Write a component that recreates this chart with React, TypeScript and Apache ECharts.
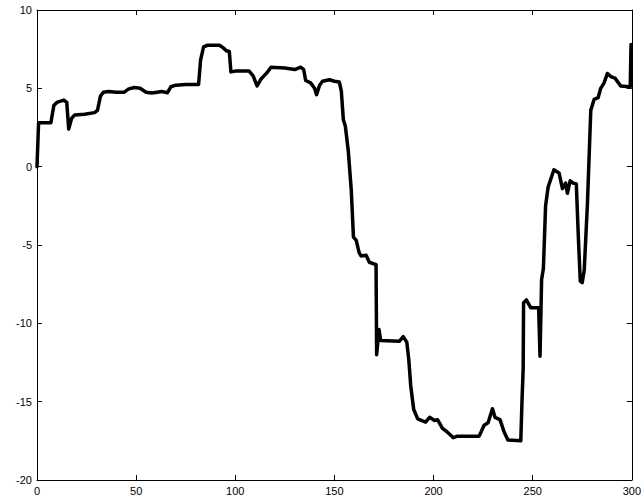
import React, { useEffect, useRef } from "react";
import * as echarts from "echarts";

const xs: number[] = [
  0, 0.8, 7, 8.5, 10, 13.5, 15, 16, 17.5, 19, 24, 29, 30.5, 32, 33.5, 36, 40, 44, 46, 49,
  52, 55, 58, 63, 65.8, 67.5, 70, 75, 81.5, 82.5, 84, 86, 92, 93.8, 95.5, 97, 97.8, 100, 107, 109,
  111, 113, 116, 118, 125, 130, 133, 134.5, 135.5, 138, 140, 141, 142.5, 144, 147.5, 150, 152.5, 153.5, 154.5, 155.5,
  157, 158.5, 159.6, 161, 162.5, 163.5, 166, 167.6, 171, 171.3, 172.5, 173.3, 182.7, 184.7, 186.5, 187.5, 188.5, 190, 192, 196,
  198, 200.5, 202, 204.5, 207, 210, 212, 223, 225.5, 227.5, 229.7, 231, 233.5, 235.5, 237.5, 244, 244.6, 245.2, 245.4, 246.8,
  249, 253, 253.7, 254.5, 255.4, 256.5, 257.8, 260.7, 263.3, 265, 266.6, 267.5, 268.9, 270.4, 272, 273, 274, 275, 276, 277.6,
  279.3, 281, 283, 284.3, 286, 287.7, 289.4, 291.5, 294.4, 298.6, 299.2, 299.6,
];
const ys: number[] = [
  0, 2.8, 2.8, 3.9, 4.1, 4.25, 4.1, 2.4, 3.1, 3.3, 3.35, 3.45, 3.6, 4.5, 4.75, 4.8, 4.75, 4.75, 4.95, 5.05,
  5.0, 4.75, 4.7, 4.8, 4.72, 5.1, 5.2, 5.25, 5.25, 6.8, 7.65, 7.75, 7.75, 7.6, 7.4, 7.35, 6.05, 6.1, 6.1, 5.8,
  5.15, 5.6, 6.0, 6.35, 6.3, 6.2, 6.35, 6.2, 5.5, 5.35, 5.0, 4.6, 5.2, 5.45, 5.55, 5.45, 5.4, 4.8, 3.0, 2.6,
  1.0, -1.5, -4.5, -4.7, -5.5, -5.7, -5.65, -6.1, -6.25, -12.0, -10.4, -11.1, -11.15, -10.85, -11.2, -12.3, -14.0, -15.5, -16.1, -16.3,
  -16.0, -16.2, -16.15, -16.7, -16.95, -17.3, -17.2, -17.2, -16.5, -16.35, -15.45, -16.0, -16.15, -16.9, -17.45, -17.5, -15, -12.9, -8.7, -8.5,
  -9.0, -9.0, -12.1, -7.2, -6.5, -2.5, -1.3, -0.2, -0.4, -1.4, -1.05, -1.7, -0.9, -1.05, -1.1, -4.4, -7.3, -7.4, -6.6, -2.4,
  3.6, 4.3, 4.4, 5.0, 5.35, 5.95, 5.75, 5.65, 5.15, 5.1, 5.1, 7.8,
];

const xMin = 0;
const xMax = 300;
const xStep = 50;
const yMin = -20;
const yMax = 10;
const yStep = 5;

export default function App() {
  const ref = useRef<HTMLDivElement>(null);
  useEffect(() => {
    if (!ref.current) return;
    const chart = echarts.init(ref.current, undefined, { renderer: "svg" });
    const font = { fontFamily: "Liberation Sans, Arial, sans-serif", fontSize: 11, color: "#000" };
    const lineStyle = { color: "#000", width: 1 };
    const tick = { show: true, inside: true, length: 5, lineStyle: { color: "#000", width: 1 } };
    chart.setOption({
      animation: false,
      backgroundColor: "#fff",
      grid: { left: 37, right: 11, top: 10, bottom: 21, containLabel: false },
      xAxis: [
        {
          type: "value", min: xMin, max: xMax, interval: xStep, position: "bottom",
          axisLine: { show: true, onZero: false, lineStyle },
          axisTick: tick, splitLine: { show: false },
          axisLabel: { ...font, margin: 5, showMaxLabel: true, showMinLabel: true },
        },
        {
          type: "value", min: xMin, max: xMax, interval: xStep, position: "top",
          axisLine: { show: true, onZero: false, lineStyle },
          axisTick: tick, splitLine: { show: false }, axisLabel: { show: false },
        },
      ],
      yAxis: [
        {
          type: "value", min: yMin, max: yMax, interval: yStep, position: "left",
          axisLine: { show: true, onZero: false, lineStyle },
          axisTick: tick, splitLine: { show: false },
          axisLabel: { ...font, margin: 5 },
        },
        {
          type: "value", min: yMin, max: yMax, interval: yStep, position: "right",
          axisLine: { show: true, onZero: false, lineStyle },
          axisTick: tick, splitLine: { show: false }, axisLabel: { show: false },
        },
      ],
      series: [
        {
          type: "line",
          data: xs.map((x, i) => [x, ys[i]]),
          showSymbol: false,
          symbol: "none",
          lineStyle: { color: "#000", width: 3.5, cap: "round", join: "round" },
          clip: false,
        },
      ],
    });
    return () => chart.dispose();
  }, []);
  return (
    <div
      ref={ref}
      style={{ position: "absolute", left: 0, top: 0, width: 644, height: 501, background: "#fff" }}
    />
  );
}
